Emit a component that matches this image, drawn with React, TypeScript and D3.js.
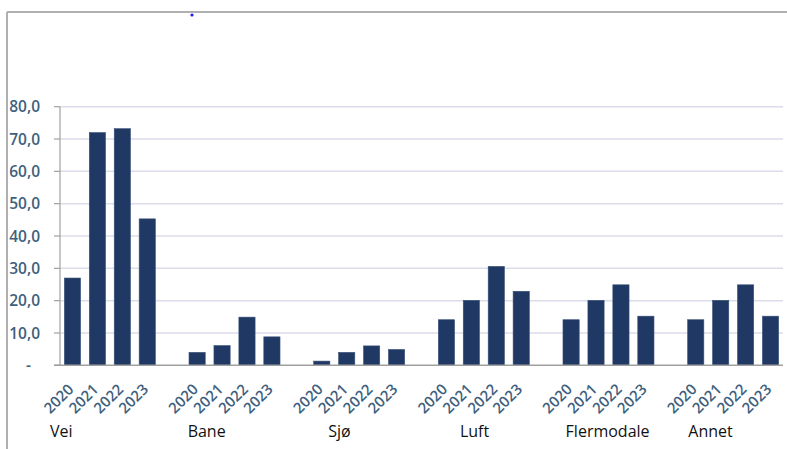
import React from "react";
import * as d3 from "d3";

const groups = ["Vei", "Bane", "Sjø", "Luft", "Flermodale", "Annet"];
const years = ["2020", "2021", "2022", "2023"];
const vei = [27.0, 72.0, 73.2, 45.3];
const bane = [4.0, 6.1, 14.9, 8.8];
const sjo = [1.3, 4.0, 6.0, 4.9];
const luft = [14.1, 20.1, 30.6, 22.9];
const flermodale = [14.1, 20.1, 24.9, 15.2];
const annet = [14.1, 20.1, 24.9, 15.2];
const seriesValues = [vei, bane, sjo, luft, flermodale, annet];
const yTicks = [0, 10, 20, 30, 40, 50, 60, 70, 80];

// layout-only nudges for the manually placed group labels
const groupLabelDx = [-10, 3, 19, 26, 7, 5];

const W = 787;
const H = 449;
const M = { left: 60, right: 783, top: 106.7, bottom: 365.3 };

export default function App() {
  const keys: string[] = [];
  const items: { key: string; g: number; y: number; v: number }[] = [];
  groups.forEach((_, g) => {
    years.forEach((yr, yi) => {
      const key = `${g}-${yr}`;
      keys.push(key);
      items.push({ key, g, y: yi, v: seriesValues[g][yi] });
    });
    if (g < groups.length - 1) keys.push(`gap-${g}`);
  });

  const x = d3
    .scaleBand<string>()
    .domain(keys)
    .range([M.left, M.right])
    .paddingInner(0.35)
    .paddingOuter(0.175);
  const y = d3.scaleLinear().domain([0, 80]).range([M.bottom, M.top]);

  const fmt = (v: number) => (v === 0 ? "-" : d3.format(".1f")(v).replace(".", ","));
  const labelColor = "#3E5F7D";
  const font = "'Open Sans', 'Liberation Sans', sans-serif";

  return (
    <svg
      width={W}
      height={H}
      style={{ position: "absolute", left: 0, top: 0, background: "#fff" }}
      fontFamily={font}
    >
      <rect x={0} y={0} width={W} height={H} fill="#fff" />
      {/* outer frame (top and left visible) */}
      <line x1={7} x2={W} y1={12} y2={12} stroke="#B0B0B0" strokeWidth={2} />
      <line x1={7} x2={7} y1={12} y2={H} stroke="#B0B0B0" strokeWidth={2} />
      <circle cx={192} cy={15} r={1.6} fill="#1a1aff" />

      {/* gridlines */}
      {yTicks.filter((t) => t > 0).map((t) => (
        <line
          key={`g${t}`}
          x1={M.left}
          x2={M.right}
          y1={y(t)}
          y2={y(t)}
          stroke="#DCDDEA"
          strokeWidth={1.5}
        />
      ))}

      {/* y axis */}
      <line x1={M.left} x2={M.left} y1={y(80)} y2={y(0)} stroke="#A0A0A0" strokeWidth={1.2} />
      {yTicks.map((t) => (
        <g key={`t${t}`}>
          <line x1={M.left - 6} x2={M.left} y1={y(t)} y2={y(t)} stroke="#A0A0A0" strokeWidth={1.2} />
          <text
            x={t === 0 ? 31 : 40}
            y={y(t)}
            dy="0.36em"
            textAnchor="end"
            fontSize={15.5}
            fontWeight={600}
            fill={labelColor}
          >
            {fmt(t)}
          </text>
        </g>
      ))}

      {/* bars */}
      {items.map((d) => (
        <rect
          key={d.key}
          x={x(d.key)!}
          y={y(d.v)}
          width={x.bandwidth()}
          height={y(0) - y(d.v)}
          fill="#1F3864"
          stroke="#3A5078"
          strokeWidth={0.6}
        />
      ))}

      {/* baseline */}
      <line x1={M.left - 6} x2={M.right} y1={y(0)} y2={y(0)} stroke="#A0A0A0" strokeWidth={1.5} />

      {/* year labels */}
      {items.map((d) => {
        const cx = x(d.key)! + x.bandwidth() / 2 + 2;
        const cy = y(0) + 25;
        return (
          <text
            key={`l${d.key}`}
            x={cx}
            y={cy}
            textAnchor="end"
            transform={`rotate(-45 ${cx} ${cy})`}
            fontSize={15}
            fontWeight={600}
            fill={labelColor}
          >
            {years[d.y]}
          </text>
        );
      })}

      {/* group labels */}
      {groups.map((gname, g) => (
        <text
          key={`c${g}`}
          x={x(`${g}-${years[0]}`)! - x.step() * 0.175 + groupLabelDx[g]}
          y={437}
          fontSize={16}
          fill="#111"
        >
          {gname}
        </text>
      ))}
    </svg>
  );
}
